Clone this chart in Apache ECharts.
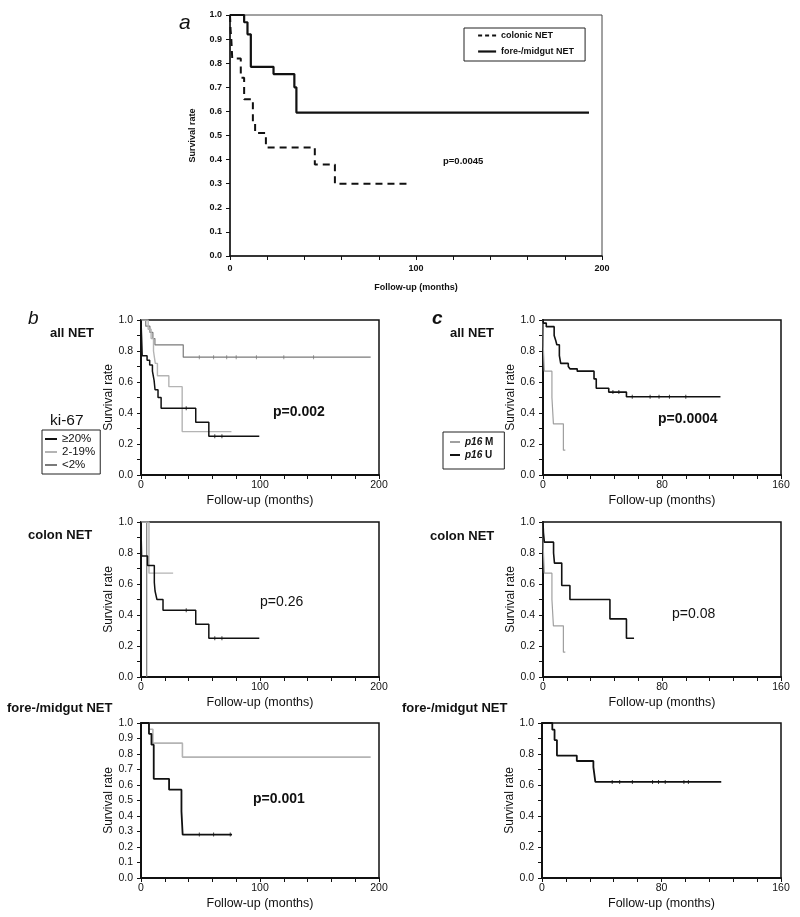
<!DOCTYPE html>
<html>
<head>
<meta charset="utf-8">
<script src="https://cdn.jsdelivr.net/npm/echarts@6/dist/echarts.min.js"></script>
<style>html,body{margin:0;padding:0;background:#fff}#chart{width:800px;height:917px}</style>
</head>
<body>
<div id="chart"></div>
<script>
// ---------- DATA (months, survival) ----------
// Panel a
const aColonicT = [0, 0.3, 0.7, 1.2, 5.8, 7.6, 12.3, 13.5, 19.3, 45.6, 56.4, 97];
const aColonicS = [1.0, 0.94, 0.90, 0.82, 0.74, 0.65, 0.55, 0.51, 0.45, 0.38, 0.30, 0.30];
const aForeT = [0, 7.6, 9.4, 11.2, 23.4, 34.6, 35.7, 193];
const aForeS = [1.0, 0.97, 0.92, 0.785, 0.755, 0.70, 0.595, 0.595];
// Panel b – all NET (ki-67)
const bAllHighT = [0, 0.5, 1, 5.1, 7.3, 9.6, 11.0, 11.8, 14.3, 16.9, 46, 57, 99.4];
const bAllHighS = [1.0, 0.89, 0.77, 0.74, 0.71, 0.67, 0.61, 0.55, 0.50, 0.43, 0.34, 0.25, 0.25];
const bAllMidT = [0, 6, 8.5, 10.5, 12, 13.8, 23.4, 34.6, 76];
const bAllMidS = [1.0, 0.94, 0.88, 0.80, 0.72, 0.64, 0.57, 0.28, 0.28];
const bAllLowT = [0, 4, 7.5, 10, 11.7, 35.5, 193];
const bAllLowS = [1.0, 0.96, 0.92, 0.88, 0.84, 0.76, 0.76];
// Panel b – colon NET
const bColHighT = [0, 0.2, 0.5, 5.5, 11.2, 11.8, 13.4, 18.5, 46, 57, 99.4];
const bColHighS = [1.0, 0.89, 0.78, 0.72, 0.61, 0.555, 0.50, 0.43, 0.34, 0.25, 0.25];
const bColMidT = [0, 6.7, 27];
const bColMidS = [1.0, 0.67, 0.67];
const bColLowT = [0, 4.8];
const bColLowS = [1.0, 0.0];
// Panel b – fore-/midgut NET
const bForeHighT = [0, 6.7, 8.8, 10.7, 23.6, 34, 35, 76.5];
const bForeHighS = [1.0, 0.93, 0.86, 0.64, 0.57, 0.43, 0.28, 0.28];
const bForeMidT = [0, 6.7, 10, 34.8, 193];
const bForeMidS = [1.0, 0.96, 0.87, 0.78, 0.78];
// Panel c – all NET (p16)
const cAllUT = [0, 0.3, 2.2, 7.5, 8.5, 9.3, 11, 11.9, 17, 18.1, 23, 34.3, 35.8, 44.2, 56.1, 119.3];
const cAllUS = [1.0, 0.98, 0.957, 0.90, 0.87, 0.84, 0.77, 0.72, 0.70, 0.685, 0.67, 0.62, 0.56, 0.535, 0.505, 0.505];
const cAllMT = [0, 0.2, 0.9, 6.0, 7.0, 13.7, 15];
const cAllMS = [1.0, 0.83, 0.67, 0.50, 0.33, 0.16, 0.16];
// Panel c – colon NET
const cColUT = [0, 0.3, 0.9, 7.1, 7.7, 12.6, 18.1, 45, 56.1, 61.2];
const cColUS = [1.0, 0.93, 0.87, 0.80, 0.735, 0.59, 0.50, 0.375, 0.25, 0.25];
const cColMT = [0, 0.2, 0.9, 6.0, 7.0, 13.7, 15];
const cColMS = [1.0, 0.83, 0.67, 0.50, 0.33, 0.16, 0.16];
// Panel c – fore-/midgut NET
const cForeUT = [0, 6.9, 8.4, 10, 23.3, 34.4, 35.7, 120];
const cForeUS = [1.0, 0.957, 0.89, 0.79, 0.755, 0.715, 0.62, 0.62];

// censored observations (months)
const cenBAllLow = [49, 61, 72, 80, 97, 120, 145];
const cenBAllHigh = [38, 62, 68];
const cenBColHigh = [38, 62, 68];
const cenBForeHigh = [49, 61, 75];
const cenCAllU = [47, 51, 60, 72, 78, 85, 96];
const cenCForeU = [47, 52, 60.5, 74, 78, 82.5, 95, 98];

// tick labels
const xLabelsB = [0, 100, 200];
const xLabelsC = [0, 80, 160];
const pValues = ['p=0.0045', 'p=0.002', 'p=0.26', 'p=0.001', 'p=0.0004', 'p=0.08'];

// ---------- BUILD ----------
const FONT = '"Liberation Sans", Arial, Helvetica, sans-serif';
const pairs = (T, S) => T.map((t, k) => [t, S[k]]);
function stepValue(T, S, t) {
  let v = S[0];
  for (let k = 0; k < T.length; k++) { if (T[k] <= t) v = S[k]; }
  return v;
}

const gridBoxes = [
  {left: 230, top: 15, width: 372, height: 241},
  {left: 141, top: 320, width: 238, height: 155},
  {left: 141, top: 522, width: 238, height: 155},
  {left: 141, top: 723, width: 238, height: 155},
  {left: 543, top: 320, width: 238, height: 155},
  {left: 543, top: 522, width: 238, height: 155},
  {left: 542, top: 723, width: 239, height: 155}
];
const grids = gridBoxes.map((g, i) => Object.assign({}, g, {
  show: true, borderColor: i === 0 ? '#444' : '#111', borderWidth: i === 0 ? 1 : 1.5, backgroundColor: 'transparent'
}));

function xAx(i, max, interval, labels) {
  const small = i === 0;
  return {
    type: 'value', gridIndex: i, min: 0, max: max, interval: interval,
    axisLine: {lineStyle: {color: '#111', width: small ? 1.5 : 2}},
    axisTick: {length: 4, lineStyle: {color: '#111', width: 1}},
    splitLine: {show: false},
    axisLabel: {
      formatter: v => labels.indexOf(Math.round(v)) >= 0 ? String(Math.round(v)) : '',
      fontFamily: FONT, fontSize: small ? 9 : 10.5, fontWeight: small ? 'bold' : 'normal',
      color: '#111', margin: small ? 8 : 5
    },
    name: 'Follow-up (months)', nameLocation: 'middle', nameGap: small ? 27 : 19,
    nameTextStyle: {fontFamily: FONT, fontSize: small ? 9 : 12.5, fontWeight: small ? 'bold' : 'normal', color: '#111'}
  };
}
function yAx(i, everyLabel) {
  const small = i === 0;
  return {
    type: 'value', gridIndex: i, min: 0, max: 1, interval: 0.1,
    axisLine: {lineStyle: {color: '#111', width: small ? 1.5 : 2}},
    axisTick: {length: 4, lineStyle: {color: '#111', width: 1}},
    splitLine: {show: false},
    axisLabel: {
      formatter: v => (everyLabel || Math.round(v * 10) % 2 === 0) ? v.toFixed(1) : '',
      fontFamily: FONT, fontSize: small ? 9 : 10.5, fontWeight: small ? 'bold' : 'normal',
      color: '#111', margin: 8
    },
    name: 'Survival rate', nameLocation: 'middle', nameGap: small ? 33 : 26,
    nameTextStyle: {fontFamily: FONT, fontSize: small ? 9 : 12, fontWeight: small ? 'bold' : 'normal', color: '#111'}
  };
}

const xAxes = [xAx(0, 200, 20, xLabelsB), xAx(1, 200, 20, xLabelsB), xAx(2, 200, 20, xLabelsB), xAx(3, 200, 20, xLabelsB),
  xAx(4, 160, 16, xLabelsC), xAx(5, 160, 16, xLabelsC), xAx(6, 160, 16, xLabelsC)];
const yAxes = [yAx(0, true), yAx(1, false), yAx(2, false), yAx(3, true), yAx(4, false), yAx(5, false), yAx(6, false)];

const BLACK = '#111', LIGHT = '#b4b4b4', MID = '#7a7a7a', PM = '#a0a0a0';
function km(name, gi, T, S, color, width, type) {
  return {
    name: name, type: 'line', step: 'end', xAxisIndex: gi, yAxisIndex: gi,
    data: pairs(T, S), symbol: 'none', showSymbol: false, animation: false, silent: true,
    lineStyle: {color: color, width: width, type: type || 'solid'}, itemStyle: {color: color}, z: 3
  };
}
function cens(gi, T, S, times, color) {
  return {
    type: 'scatter', xAxisIndex: gi, yAxisIndex: gi, silent: true, animation: false,
    data: times.map(t => [t, stepValue(T, S, t)]),
    symbol: 'rect', symbolSize: [1, 4], itemStyle: {color: color}, z: 4
  };
}
const series = [
  km('colonic NET', 0, aColonicT, aColonicS, BLACK, 2, [7, 5]),
  km('fore-/midgut NET', 0, aForeT, aForeS, BLACK, 2.2),
  km('<2%', 1, bAllLowT, bAllLowS, MID, 1.2),
  km('2-19%', 1, bAllMidT, bAllMidS, LIGHT, 1.4),
  km('≥20%', 1, bAllHighT, bAllHighS, BLACK, 1.5),
  km('<2%', 2, bColLowT, bColLowS, MID, 1.2),
  km('2-19%', 2, bColMidT, bColMidS, LIGHT, 1.4),
  km('≥20%', 2, bColHighT, bColHighS, BLACK, 1.5),
  km('2-19%', 3, bForeMidT, bForeMidS, LIGHT, 1.6),
  km('≥20%', 3, bForeHighT, bForeHighS, BLACK, 1.8),
  km('p16 M', 4, cAllMT, cAllMS, PM, 1.2),
  km('p16 U', 4, cAllUT, cAllUS, BLACK, 1.6),
  km('p16 M', 5, cColMT, cColMS, PM, 1.2),
  km('p16 U', 5, cColUT, cColUS, BLACK, 1.6),
  km('p16 U', 6, cForeUT, cForeUS, BLACK, 1.8),
  cens(1, bAllLowT, bAllLowS, cenBAllLow, MID),
  cens(1, bAllHighT, bAllHighS, cenBAllHigh, BLACK),
  cens(2, bColHighT, bColHighS, cenBColHigh, BLACK),
  cens(3, bForeHighT, bForeHighS, cenBForeHigh, BLACK),
  cens(4, cAllUT, cAllUS, cenCAllU, BLACK),
  cens(6, cForeUT, cForeUS, cenCForeU, BLACK)
];

function txt(text, left, top, size, weight, style) {
  return {text: text, left: left, top: top, padding: 0,
    textStyle: {fontFamily: FONT, fontSize: size, fontWeight: weight || 'normal', fontStyle: style || 'normal', color: '#111'}};
}
const titles = [
  txt('a', 179, 13, 21, 'normal', 'italic'),
  txt('b', 28, 309, 19, 'normal', 'italic'),
  txt('c', 432, 309, 19, 'bold', 'italic'),
  txt('all NET', 50, 327, 13, 'bold'),
  txt('colon NET', 28, 529, 13, 'bold'),
  txt('fore-/midgut NET', 7, 702, 13, 'bold'),
  txt('all NET', 450, 327, 13, 'bold'),
  txt('colon NET', 430, 530, 13, 'bold'),
  txt('fore-/midgut NET', 402, 702, 13, 'bold'),
  txt('ki-67', 50, 413, 15.5, 'normal'),
  txt(pValues[0], 443, 156, 9.5, 'bold'),
  txt(pValues[1], 273, 405, 14, 'bold'),
  txt(pValues[2], 260, 595, 14, 'normal'),
  txt(pValues[3], 253, 792, 14, 'bold'),
  txt(pValues[4], 658, 412, 14, 'bold'),
  txt(pValues[5], 672, 607, 14, 'normal')
];

const hiddenSymbol = {opacity: 0, borderWidth: 0};
const legends = [
  {data: [{name: 'colonic NET', lineStyle: {type: [4, 3], width: 2}}, {name: 'fore-/midgut NET', lineStyle: {width: 2.2}}],
    left: 464, top: 28, orient: 'vertical', selectedMode: false, itemStyle: hiddenSymbol,
    padding: [3, 11, 5, 13], itemWidth: 18, itemHeight: 8, itemGap: 7, borderColor: '#222', borderWidth: 1,
    textStyle: {fontFamily: FONT, fontSize: 9, fontWeight: 'bold', color: '#111'}},
  {data: ['≥20%', '2-19%', '<2%'], left: 42, top: 430, orient: 'vertical', selectedMode: false, itemStyle: hiddenSymbol,
    padding: [3, 5, 3, 2], itemWidth: 12, itemHeight: 8, itemGap: 1, borderColor: '#222', borderWidth: 1,
    textStyle: {fontFamily: FONT, fontSize: 11.5, lineHeight: 12, color: '#111'}},
  {data: ['p16 M', 'p16 U'], left: 443, top: 432, orient: 'vertical', selectedMode: false, itemStyle: hiddenSymbol,
    padding: [5, 11, 9, 6], itemWidth: 10, itemHeight: 8, itemGap: 3, borderColor: '#222', borderWidth: 1,
    formatter: n => '{i|p16} ' + n.split(' ')[1],
    textStyle: {fontFamily: FONT, fontSize: 10, fontWeight: 'bold', color: '#111',
      rich: {i: {fontFamily: FONT, fontSize: 10, fontWeight: 'bold', fontStyle: 'italic', color: '#111'}}}}
];

const chart = echarts.init(document.getElementById('chart'), null, {renderer: 'canvas'});
chart.setOption({
  backgroundColor: '#fff', animation: false,
  title: titles, legend: legends, grid: grids, xAxis: xAxes, yAxis: yAxes, series: series
});
</script>
</body>
</html>
